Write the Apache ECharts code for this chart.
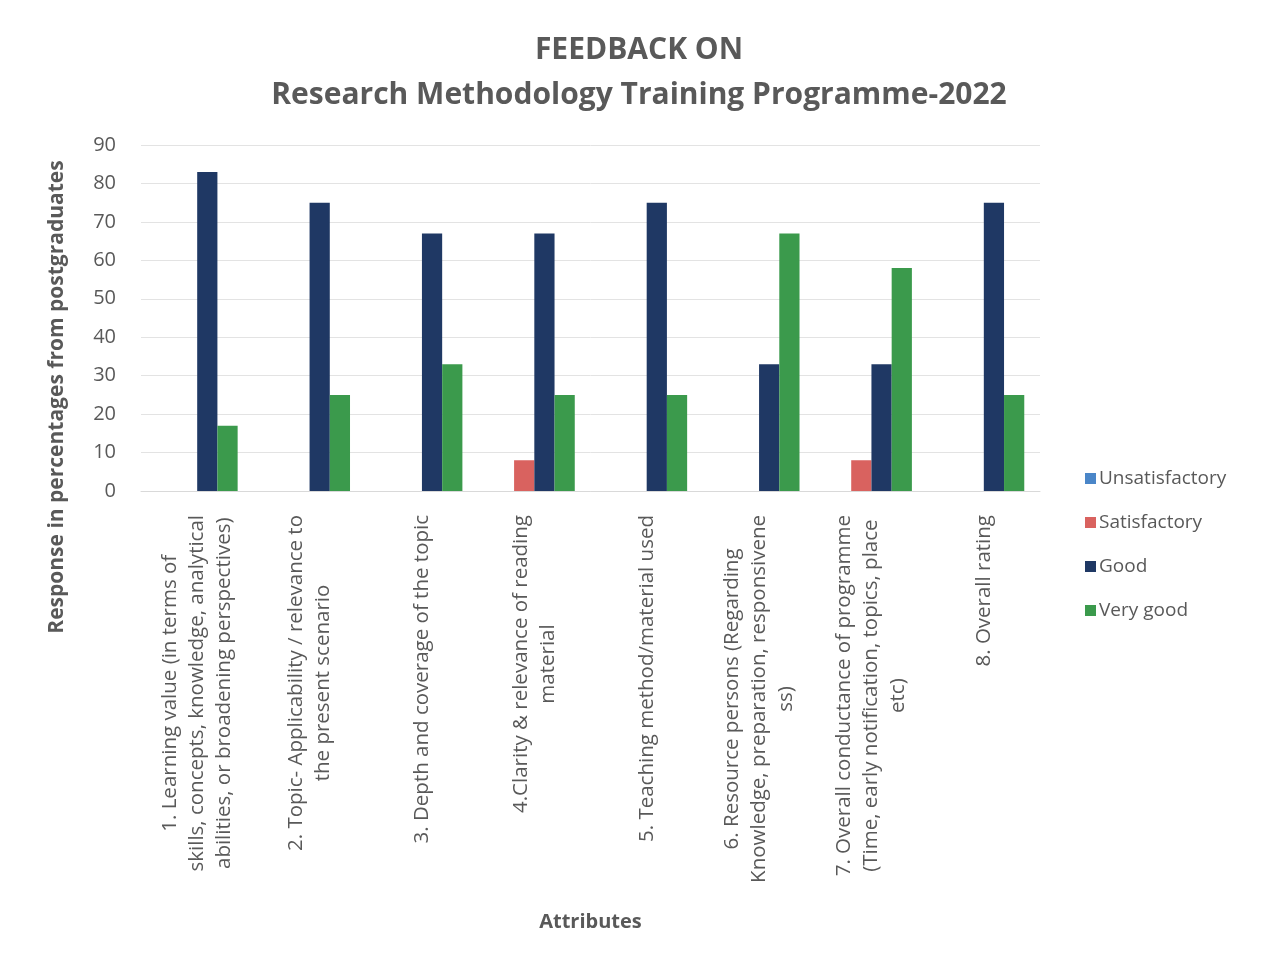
<!DOCTYPE html>
<html>
<head>
<meta charset="utf-8">
<script src="https://cdn.jsdelivr.net/npm/echarts@6/dist/echarts.min.js"></script>
<style>
  html, body { margin: 0; padding: 0; background: #ffffff; }
  #chart { width: 1261px; height: 964px; }
</style>
</head>
<body>
<div id="chart"></div>
<script>
// categories, as the chart breaks them over lines
const categories = [
  '1. Learning value (in terms of\nskills, concepts, knowledge, analytical\nabilities, or broadening perspectives)',
  '2. Topic- Applicability / relevance to\nthe present scenario',
  '3. Depth and coverage of the topic',
  '4.Clarity & relevance of reading\nmaterial',
  '5. Teaching method/material used',
  '6. Resource persons (Regarding\nKnowledge, preparation, responsivene\nss)',
  '7. Overall conductance of programme\n(Time, early notification, topics, place\netc)',
  '8. Overall rating'
]

const unsatisfactory = [0, 0, 0, 0, 0, 0, 0, 0]
const satisfactory = [0, 0, 0, 8, 0, 0, 8, 0]
const good = [83, 75, 67, 67, 75, 33, 33, 75]
const veryGood = [17, 25, 33, 25, 25, 67, 58, 25]

const yTicks = [0, 10, 20, 30, 40, 50, 60, 70, 80, 90]

const textGray = '#595959'
const font = '"Open Sans", Lato, sans-serif'

const chart = echarts.init(document.getElementById('chart'))

const bar = (name, data, color) => ({
  name: name,
  type: 'bar',
  data: data,
  barGap: '0%',
  barCategoryGap: '28%',
  itemStyle: { color: color },
  emphasis: { disabled: true }
})

chart.setOption({
  backgroundColor: '#ffffff',
  animation: false,
  textStyle: { fontFamily: font },
  title: {
    text: 'FEEDBACK ON\nResearch Methodology Training Programme-2022',
    left: 634,
    textAlign: 'center',
    top: 23,
    textStyle: {
      color: textGray,
      fontFamily: font,
      fontWeight: 'bold',
      fontSize: 30,
      lineHeight: 45
    }
  },
  legend: {
    orient: 'vertical',
    left: 1080,
    top: 464,
    itemWidth: 11,
    itemHeight: 11,
    itemGap: 25,
    icon: 'rect',
    textStyle: { color: textGray, fontSize: 19, fontFamily: font, padding: [0, 0, 0, -2] },
    data: ['Unsatisfactory', 'Satisfactory', 'Good', 'Very good']
  },
  grid: {
    left: 141,
    right: 221,
    top: 145,
    bottom: 473
  },
  xAxis: {
    type: 'category',
    data: categories,
    name: 'Attributes',
    nameLocation: 'middle',
    nameGap: 421,
    nameTextStyle: { color: textGray, fontSize: 20, fontWeight: 'bold', fontFamily: font },
    axisLine: { lineStyle: { color: '#d9d9d9', width: 1 } },
    axisTick: { show: false },
    axisLabel: {
      interval: 0,
      rotate: 90,
      margin: 24,
      color: textGray,
      fontSize: 20.5,
      lineHeight: 27,
      formatter: v => v.split('\n').map(l => '{c|' + l + '}').join('\n'),
      rich: {
        c: { align: 'center', fontSize: 20.5, lineHeight: 27, color: textGray, fontFamily: font }
      }
    }
  },
  yAxis: {
    type: 'value',
    min: yTicks[0],
    max: yTicks[yTicks.length - 1],
    interval: 10,
    axisLine: { show: false },
    axisTick: { show: false },
    axisLabel: { color: textGray, fontSize: 20, margin: 25, fontFamily: font },
    splitLine: { lineStyle: { color: '#e3e3e3', width: 1 } }
  },
  graphic: [{
    type: 'text',
    x: 57,
    y: 397,
    rotation: Math.PI / 2,
    style: {
      text: 'Response in percentages from postgraduates',
      fill: textGray,
      font: 'bold 21px ' + font,
      align: 'center',
      verticalAlign: 'middle'
    }
  }],
  series: [
    bar('Unsatisfactory', unsatisfactory, '#4a86c8'),
    bar('Satisfactory', satisfactory, '#d9625f'),
    bar('Good', good, '#1f3864'),
    bar('Very good', veryGood, '#3b9a4c')
  ]
})
</script>
</body>
</html>
